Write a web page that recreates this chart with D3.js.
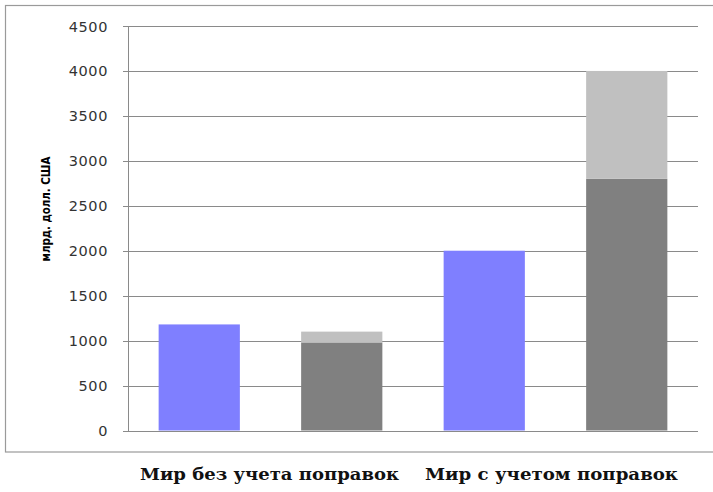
<!DOCTYPE html>
<html>
<head>
<meta charset="utf-8">
<script src="https://cdn.jsdelivr.net/npm/d3@7"></script>
<style>
  html, body { margin: 0; padding: 0; background: #fff; }
  svg { display: block; }
</style>
</head>
<body>
<svg id="chart" width="713" height="492"></svg>
<script>
// Bar slots, left to right
const slots = ["a1", "a2", "b1", "b2"];
// Base values (bln USD)
const baseValues = [1180, 980, 2000, 2800];
// Additional stacked portion on top of the base
const extraValues = [0, 120, 0, 1200];
// Which slots are the single-colour (blue) bars
const isBlue = [true, false, true, false];
// Y axis ticks
const yTicks = [0, 500, 1000, 1500, 2000, 2500, 3000, 3500, 4000, 4500];
// Group labels under the chart
const groupLabels = ["Мир без учета поправок", "Мир с учетом поправок"];
const groupLabelX = [269.5, 551.5];
const groupLabelW = [259, 253];
const yTitle = "млрд. долл. США";

const svg = d3.select("#chart");

// Outer frame
svg.append("rect")
  .attr("x", 5.5).attr("y", 5.5)
  .attr("width", 720).attr("height", 446.5)
  .attr("fill", "#fff")
  .attr("stroke", "#9a9a9a").attr("stroke-width", 1.2);

const x = d3.scaleBand().domain(slots).range([128, 698]).paddingInner(0.43).paddingOuter(0.215);
const y = d3.scaleLinear().domain([0, 4500]).range([430.5, 26]);

// Gridlines
svg.append("g").selectAll("line")
  .data(yTicks)
  .join("line")
  .attr("x1", 123).attr("x2", 698)
  .attr("y1", d => Math.round(y(d)) + 0.5)
  .attr("y2", d => Math.round(y(d)) + 0.5)
  .attr("stroke", "#8a8a8a").attr("stroke-width", 1);

// Vertical axis line
svg.append("line")
  .attr("x1", 128.5).attr("x2", 128.5)
  .attr("y1", Math.round(y(4500)) + 0.5).attr("y2", Math.round(y(0)) + 0.5)
  .attr("stroke", "#8a8a8a");

// Tick labels
svg.append("g").selectAll("text")
  .data(yTicks)
  .join("text")
  .attr("x", 108)
  .attr("y", d => y(d) + 5.5)
  .attr("text-anchor", "end")
  .attr("font-family", "DejaVu Sans, Verdana, sans-serif")
  .attr("font-size", 14.5)
  .attr("letter-spacing", 0.6)
  .attr("fill", "#333")
  .text(d => d);

// Bars: base part
const bars = svg.append("g");
bars.selectAll("rect.base")
  .data(slots)
  .join("rect")
  .attr("class", "base")
  .attr("x", d => x(d))
  .attr("width", x.bandwidth())
  .attr("y", (d, i) => y(baseValues[i]))
  .attr("height", (d, i) => y(0) - y(baseValues[i]))
  .attr("fill", (d, i) => isBlue[i] ? "#7f7fff" : "#808080");

// Bars: stacked extra part
bars.selectAll("rect.extra")
  .data(slots.filter((d, i) => extraValues[i] > 0))
  .join("rect")
  .attr("class", "extra")
  .attr("x", d => x(d))
  .attr("width", x.bandwidth())
  .attr("y", d => { const i = slots.indexOf(d); return y(baseValues[i] + extraValues[i]); })
  .attr("height", d => { const i = slots.indexOf(d); return y(baseValues[i]) - y(baseValues[i] + extraValues[i]); })
  .attr("fill", "#c0c0c0");

// Y axis title
svg.append("text")
  .attr("transform", "translate(50,209) rotate(-90)")
  .attr("text-anchor", "middle")
  .attr("font-family", "DejaVu Sans, Arial, sans-serif")
  .attr("font-weight", "bold")
  .attr("font-size", 12)
  .attr("textLength", 105)
  .attr("lengthAdjust", "spacingAndGlyphs")
  .attr("fill", "#000")
  .text(yTitle);

// Group labels
svg.append("g").selectAll("text")
  .data(groupLabels)
  .join("text")
  .attr("x", (d, i) => groupLabelX[i])
  .attr("y", 480)
  .attr("text-anchor", "middle")
  .attr("font-family", "DejaVu Serif, Liberation Serif, serif")
  .attr("font-weight", "bold")
  .attr("font-size", 17)
  .attr("textLength", (d, i) => groupLabelW[i])
  .attr("lengthAdjust", "spacingAndGlyphs")
  .attr("fill", "#111")
  .text(d => d);
</script>
</body>
</html>
